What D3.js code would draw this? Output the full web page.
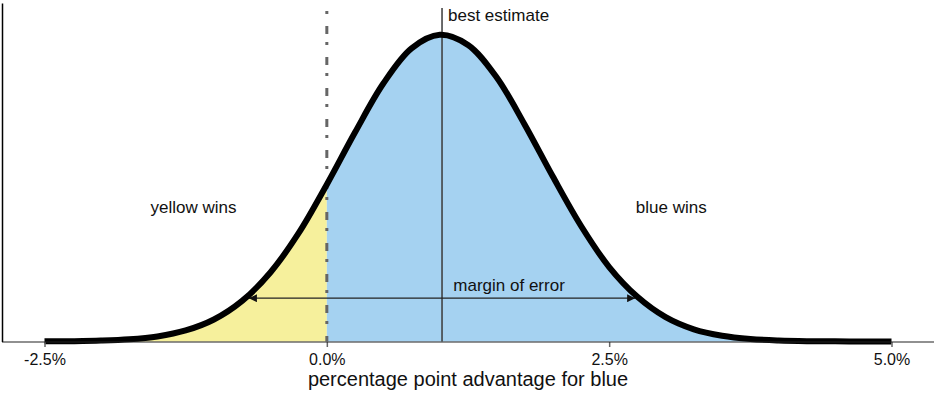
<!DOCTYPE html>
<html>
<head>
<meta charset="utf-8">
<script src="https://cdn.jsdelivr.net/npm/d3@7"></script>
<style>
  body { margin: 0; background: #fff; }
  text { font-family: "Liberation Sans", Arial, sans-serif; fill: #111; }
</style>
</head>
<body>
<div id="chart"></div>
<script>
// advantage (percentage points) and the estimated density
const advantage = [-2.5, -2.25, -2, -1.75, -1.5, -1.25, -1, -0.75, -0.5, -0.25, 0, 0.25, 0.5, 0.75, 1,
                   1.25, 1.5, 1.75, 2, 2.25, 2.5, 2.75, 3, 3.25, 3.5, 3.75, 4, 4.25, 4.5, 4.75, 5];
const density = [0.0002, 0.0005, 0.0013, 0.0032, 0.0075, 0.0163, 0.0325, 0.060, 0.102, 0.160, 0.232, 0.309, 0.381, 0.433, 0.453,
                 0.438, 0.391, 0.321, 0.244, 0.171, 0.110, 0.066, 0.036, 0.018, 0.0085, 0.0037, 0.0015, 0.0005, 0.0002, 0.0001, 0];

const xTicks = [-2.5, 0, 2.5, 5];
const bestEstimate = 1.02;
const marginOfError = 1.71;
const arrowLevel = 0.064;

const labels = [
  {text: "yellow wins", x: -1.18, y: 0.19, anchor: "middle"},
  {text: "blue wins", x: 3.05, y: 0.19, anchor: "middle"},
  {text: "margin of error", x: 1.12, y: 0.075, anchor: "start"}
];

const width = 936, height = 396;

const svg = d3.select("#chart").append("svg")
    .attr("width", width)
    .attr("height", height);

const x = d3.scaleLinear().domain([-2.5, 5]).range([44.5, 891.5]);
const y = d3.scaleLinear().domain([0, 0.5]).range([341.5, 3]);

const data = advantage.map(function(a, i) { return {a: a, d: density[i]}; });

// clip areas either side of zero
const defs = svg.append("defs");
defs.append("clipPath").attr("id", "clipYellow")
  .append("rect").attr("x", 0).attr("y", 0).attr("width", x(0)).attr("height", height);
defs.append("clipPath").attr("id", "clipBlue")
  .append("rect").attr("x", x(0)).attr("y", 0).attr("width", width - x(0)).attr("height", height);

const area = d3.area()
    .curve(d3.curveCatmullRom)
    .x(function(d) { return x(d.a); })
    .y0(y(0))
    .y1(function(d) { return y(d.d); });

const line = d3.line()
    .curve(d3.curveCatmullRom)
    .x(function(d) { return x(d.a); })
    .y(function(d) { return y(d.d); });

svg.append("path")
  .datum(data)
  .attr("clip-path", "url(#clipYellow)")
  .attr("fill", "#f6f09c")
  .attr("d", area);

svg.append("path")
  .datum(data)
  .attr("clip-path", "url(#clipBlue)")
  .attr("fill", "#a5d2f1")
  .attr("d", area);

// zero line
svg.append("line")
  .attr("x1", x(0)).attr("x2", x(0))
  .attr("y1", 11).attr("y2", y(0))
  .attr("stroke", "#666")
  .attr("stroke-width", 3)
  .attr("stroke-dasharray", "3,12,8,8");

// best estimate
svg.append("line")
  .attr("x1", x(bestEstimate)).attr("x2", x(bestEstimate))
  .attr("y1", 8).attr("y2", y(0))
  .attr("stroke", "#3a3a3a")
  .attr("stroke-width", 1.5);

svg.append("text")
  .attr("x", x(bestEstimate) + 6)
  .attr("y", 21)
  .attr("font-size", 17)
  .text("best estimate");

// margin of error arrow
defs.append("marker")
  .attr("id", "arrow")
  .attr("viewBox", "0 0 10 10")
  .attr("refX", 10).attr("refY", 5)
  .attr("markerWidth", 10).attr("markerHeight", 8)
  .attr("markerUnits", "userSpaceOnUse")
  .attr("orient", "auto-start-reverse")
  .append("path")
  .attr("d", "M0,0L10,5L0,10Z")
  .attr("fill", "#111");

svg.append("line")
  .attr("x1", x(bestEstimate - marginOfError)).attr("x2", x(bestEstimate + marginOfError))
  .attr("y1", y(arrowLevel)).attr("y2", y(arrowLevel))
  .attr("stroke", "#222")
  .attr("stroke-width", 1.2)
  .attr("marker-start", "url(#arrow)")
  .attr("marker-end", "url(#arrow)");

// the curve
svg.append("path")
  .datum(data)
  .attr("fill", "none")
  .attr("stroke", "#000")
  .attr("stroke-width", 6)
  .attr("stroke-linejoin", "round")
  .attr("d", line);

svg.selectAll(".lbl")
  .data(labels)
  .enter().append("text")
  .attr("class", "lbl")
  .attr("x", function(d) { return x(d.x); })
  .attr("y", function(d) { return y(d.y); })
  .attr("text-anchor", function(d) { return d.anchor; })
  .attr("font-size", 17)
  .text(function(d) { return d.text; });

// axes
const xAxis = svg.append("g")
  .attr("transform", "translate(0," + 342 + ")")
  .call(d3.axisBottom(x).tickValues(xTicks).tickSize(5).tickSizeOuter(0)
        .tickFormat(function(d) { return d.toFixed(1) + "%"; }));
xAxis.select(".domain").remove();
xAxis.selectAll(".tick line").attr("stroke", "#666").attr("stroke-width", 1.5);
xAxis.selectAll(".tick text")
  .attr("font-size", 16)
  .attr("font-family", "Liberation Sans, Arial, sans-serif")
  .attr("fill", "#111")
  .attr("dy", "0.95em");

svg.append("line")
  .attr("x1", 2).attr("x2", 934)
  .attr("y1", 342).attr("y2", 342)
  .attr("stroke", "#222")
  .attr("stroke-width", 1.2);

const yAxis = svg.append("g")
  .attr("transform", "translate(2,0)")
  .call(d3.axisLeft(y).tickValues([]).tickSizeOuter(0));
yAxis.select(".domain").attr("stroke", "#000").attr("stroke-width", 1.5);

svg.append("text")
  .attr("x", width / 2)
  .attr("y", 386)
  .attr("text-anchor", "middle")
  .attr("font-size", 20)
  .text("percentage point advantage for blue");
</script>
</body>
</html>
